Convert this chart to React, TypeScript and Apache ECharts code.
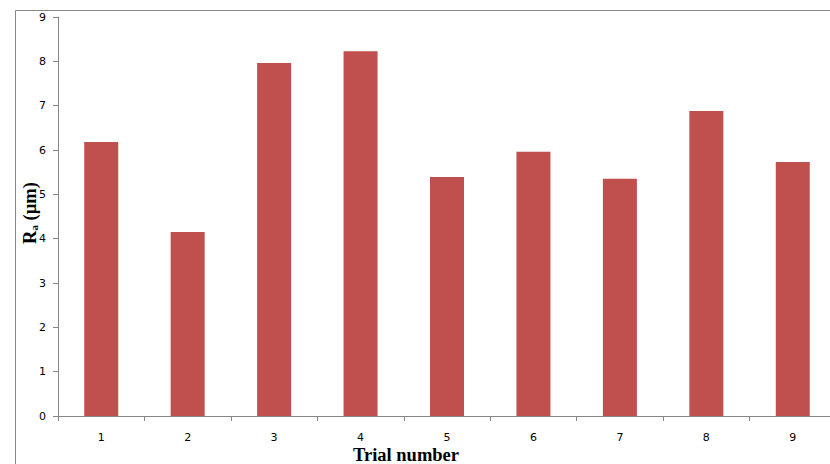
import React, { useEffect, useRef } from "react";
import * as echarts from "echarts";

const categories = ["1", "2", "3", "4", "5", "6", "7", "8", "9"];
const raValues = [6.18, 4.15, 7.96, 8.23, 5.39, 5.96, 5.35, 6.88, 5.73];
const yMin = 0;
const yMax = 9;
const yInterval = 1;

export default function App() {
  const ref = useRef<HTMLDivElement>(null);
  useEffect(() => {
    if (!ref.current) return;
    const chart = echarts.init(ref.current, null, { renderer: "svg" });
    const axisColor = "#868686";
    chart.setOption({
      animation: false,
      backgroundColor: "#ffffff",
      grid: { left: 58, top: 17, width: 778, height: 399, containLabel: false },
      xAxis: {
        type: "category",
        data: categories,
        boundaryGap: true,
        axisLine: { lineStyle: { color: axisColor, width: 1 } },
        axisTick: { show: true, alignWithLabel: false, length: 5, lineStyle: { color: axisColor } },
        axisLabel: { color: "#000", fontFamily: "DejaVu Sans", fontSize: 11, margin: 16 },
        splitLine: { show: false },
      },
      yAxis: {
        type: "value",
        min: yMin,
        max: yMax,
        interval: yInterval,
        axisLine: { show: true, lineStyle: { color: axisColor, width: 1 } },
        axisTick: { show: true, length: 5, lineStyle: { color: axisColor } },
        axisLabel: { color: "#000", fontFamily: "DejaVu Sans", fontSize: 11, margin: 12 },
        splitLine: { show: false },
      },
      series: [
        {
          type: "bar",
          data: raValues,
          barWidth: 34,
          itemStyle: { color: "#C0504D" },
        },
      ],
      graphic: [
        {
          type: "rect",
          shape: { x: 15.5, y: 10.5, width: 900, height: 600 },
          style: { fill: "none", stroke: axisColor, lineWidth: 1 },
          silent: true,
        },
        {
          type: "text",
          x: 406,
          y: 455,
          style: {
            text: "Trial number",
            font: "bold 18.5px 'Liberation Serif', serif",
            fill: "#000",
            textAlign: "center",
            textVerticalAlign: "middle",
          },
        },
        {
          type: "text",
          x: 28,
          y: 213,
          rotation: Math.PI / 2,
          style: {
            text: "{b|R}{s|a}{b| (µm)}",
            textAlign: "center",
            textVerticalAlign: "middle",
            fill: "#000",
            rich: {
              b: { fontFamily: "Liberation Serif", fontWeight: "bold", fontSize: 18.5, verticalAlign: "bottom", lineHeight: 22 },
              s: { fontFamily: "Liberation Serif", fontWeight: "bold", fontSize: 11, verticalAlign: "bottom", lineHeight: 21 },
            },
          },
        },
      ],
    });
    return () => chart.dispose();
  }, []);
  return (
    <div style={{ position: "fixed", left: 0, top: 0, width: 830, height: 464, overflow: "hidden", background: "#fff" }}>
      <div ref={ref} style={{ width: 850, height: 464 }} />
    </div>
  );
}
